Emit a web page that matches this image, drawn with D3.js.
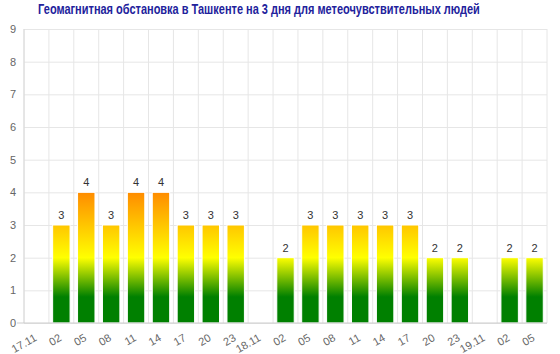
<!DOCTYPE html>
<html>
<head>
<meta charset="utf-8">
<script src="https://cdn.jsdelivr.net/npm/d3@7"></script>
<style>
  body { margin: 0; background: #fff; }
  text { font-family: "Liberation Sans", Arial, sans-serif; }
</style>
</head>
<body>
<div id="chart"></div>
<script>
// data
var categories = ["17.11", "02", "05", "08", "11", "14", "17", "20", "23",
                  "18.11", "02", "05", "08", "11", "14", "17", "20", "23",
                  "19.11", "02", "05"];
var values = [null, 3, 4, 3, 4, 4, 3, 3, 3,
              null, 2, 3, 3, 3, 3, 3, 2, 2,
              null, 2, 2];
var yTicks = [0, 1, 2, 3, 4, 5, 6, 7, 8, 9];
var title = "Геомагнитная обстановка в Ташкенте на 3 дня для метеочувствительных людей";

var width = 560, height = 354;
var margin = {top: 29, right: 13, bottom: 31, left: 24};

var svg = d3.select("#chart")
    .append("svg")
    .attr("width", width)
    .attr("height", height);

// keys so repeated hour labels stay separate bands
var keys = categories.map(function(d, i) { return i; });

var x = d3.scaleBand()
    .domain(keys)
    .range([margin.left, width - margin.right])
    .paddingInner(0.3)
    .paddingOuter(0.15);

var y = d3.scaleLinear()
    .domain([0, 9])
    .range([height - margin.bottom, margin.top]);

// colour gradient tied to the value axis
var grad = svg.append("defs").append("linearGradient")
    .attr("id", "geo")
    .attr("gradientUnits", "userSpaceOnUse")
    .attr("x1", 0).attr("x2", 0)
    .attr("y1", y(0)).attr("y2", y(4));

grad.selectAll("stop")
    .data([
      {o: 0, c: "#008000"},
      {o: 0.2, c: "#008000"},
      {o: 0.5, c: "#ffff00"},
      {o: 1, c: "#ff8c00"}
    ])
    .enter().append("stop")
    .attr("offset", function(d) { return d.o; })
    .attr("stop-color", function(d) { return d.c; });

// vertical grid at band boundaries
var bounds = keys.map(function(k) { return margin.left + k * (width - margin.left - margin.right) / keys.length; });
bounds.push(width - margin.right);

svg.append("g")
    .selectAll("line")
    .data(bounds)
    .enter().append("line")
    .attr("x1", function(d) { return d; })
    .attr("x2", function(d) { return d; })
    .attr("y1", margin.top)
    .attr("y2", y(0))
    .attr("stroke", "#e6e6e6");

// y axis with horizontal grid
var gy = svg.append("g")
    .attr("transform", "translate(" + margin.left + ",0)")
    .call(d3.axisLeft(y)
      .tickValues(yTicks)
      .tickSize(-(width - margin.left - margin.right))
      .tickPadding(8));

gy.select(".domain").remove();
gy.selectAll(".tick line").attr("stroke", "#e6e6e6");
gy.selectAll(".tick text")
    .attr("fill", "#666")
    .style("font-size", "11px");

// left boundary a bit stronger
svg.append("line")
    .attr("x1", margin.left).attr("x2", margin.left)
    .attr("y1", margin.top).attr("y2", y(0))
    .attr("stroke", "#d8d8d8");

// bars
var barData = keys.filter(function(k) { return values[k] != null; });

svg.append("g")
    .selectAll("rect")
    .data(barData)
    .enter().append("rect")
    .attr("x", function(k) { return x(k); })
    .attr("width", x.bandwidth())
    .attr("y", function(k) { return y(values[k]); })
    .attr("height", function(k) { return y(0) - y(values[k]); })
    .attr("fill", "url(#geo)")
    .attr("stroke", "#fff")
    .attr("stroke-width", 1);

// value labels
svg.append("g")
    .selectAll("text")
    .data(barData)
    .enter().append("text")
    .attr("x", function(k) { return x(k) + x.bandwidth() / 2; })
    .attr("y", function(k) { return y(values[k]) - 6; })
    .attr("text-anchor", "middle")
    .attr("fill", "#333")
    .style("font-size", "11px")
    .text(function(k) { return values[k]; });

// x axis
var gx = svg.append("g")
    .attr("transform", "translate(0," + y(0) + ")")
    .call(d3.axisBottom(x)
      .tickSize(0)
      .tickFormat(function(k) { return categories[k]; }));

gx.select(".domain")
    .attr("stroke", "#ccc")
    .attr("d", "M" + (margin.left - 7) + ",0H" + (width - margin.right));

gx.selectAll(".tick text")
    .attr("fill", "#666")
    .style("font-size", "11px")
    .attr("text-anchor", "end")
    .attr("dy", "0")
    .attr("y", 0)
    .attr("transform", "translate(1,17) rotate(-30)");

// title, narrowed horizontally to the width seen in the reference
var tg = svg.append("g");
var t = tg.append("text")
    .attr("x", 0)
    .attr("y", 0)
    .attr("text-anchor", "middle")
    .attr("fill", "#22229c")
    .style("font-size", "14px")
    .style("font-weight", "bold")
    .text(title);

var len = t.node().getComputedTextLength();
var sx = Math.min(1, 442 / len);
tg.attr("transform", "translate(259,14) scale(" + sx + ",1)");
</script>
</body>
</html>
